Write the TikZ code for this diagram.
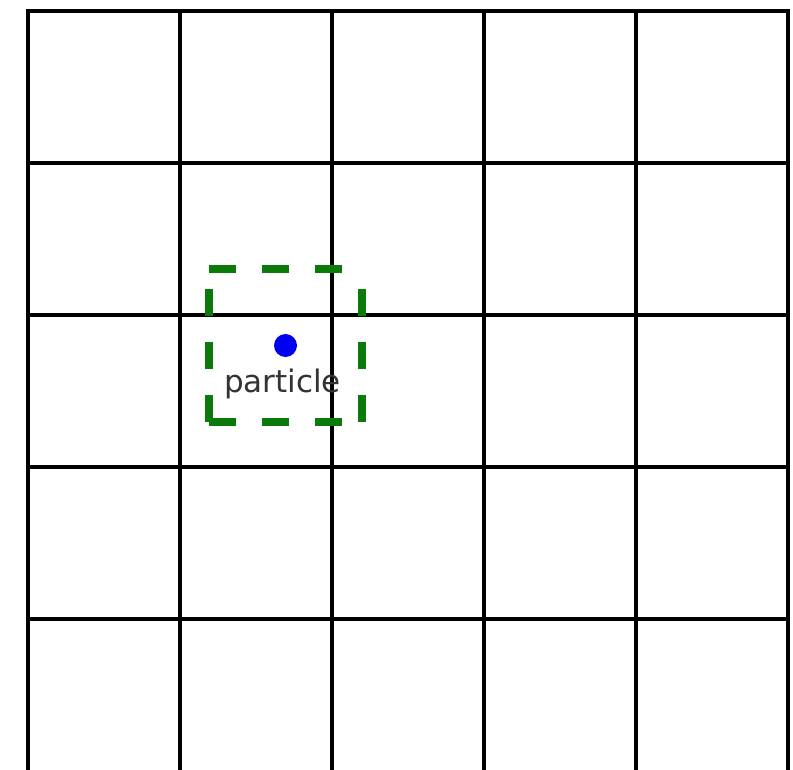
\documentclass[tikz,border=0pt]{standalone}
\usepackage{fontspec}
\setmainfont{DejaVu Sans}
\usepackage{xcolor}
\usepackage{tikz}
\definecolor{boxgreen}{HTML}{0B7A0B}
\definecolor{dotblue}{HTML}{0000F0}
\definecolor{labelgray}{HTML}{333333}

\begin{document}
\begin{tikzpicture}[x=1pt, y=-1pt,
    gridline/.style={draw=black, line width=3.5pt},
    cellbox/.style={draw=boxgreen, line width=7.5pt, dash pattern=on 27pt off 26pt},
    dot/.style={circle, fill=dotblue, inner sep=0pt, minimum size=23pt}]
    \useasboundingbox (0,0) rectangle (793,770);
    % grid
    \foreach \i in {0,...,5}
      \draw[gridline] (28+152*\i,9.25) -- (28+152*\i,780);
    \foreach \j in {0,...,4}
      \draw[gridline] (26.25,11+152*\j) -- (789.75,11+152*\j);
    % search box round the particle
    \coordinate (boxsw) at (209,422);
    \coordinate (boxse) at (362,422);
    \coordinate (boxnw) at (209,269);
    \coordinate (boxne) at (362,269);
    \draw[cellbox] (boxnw) -- (boxne);
    \draw[cellbox] (boxsw) -- (boxse);
    \draw[cellbox] (boxsw) -- (boxnw);
    \draw[cellbox] (boxse) -- (boxne);
    % particle
    \node[dot] (particle) at (285.5,345.5) {};
    \node[anchor=base, text=labelgray, font=\fontsize{31}{31}\selectfont, inner sep=0pt]
      (particlelabel) at (282.5,392) {particle};
  \end{tikzpicture}
\end{document}
